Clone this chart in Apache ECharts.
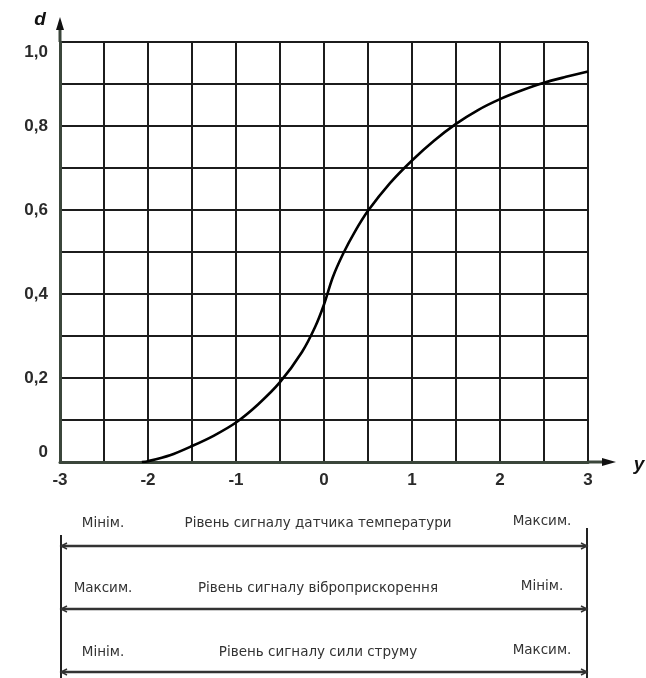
<!DOCTYPE html>
<html>
<head>
<meta charset="utf-8">
<script src="https://cdn.jsdelivr.net/npm/echarts@6/dist/echarts.min.js"></script>
<style>
html,body{margin:0;padding:0;background:#fff;}
#chart{width:646px;height:678px;}
</style>
</head>
<body>
<div id="chart"></div>
<script>
// ---- data ----
const curveY = [-2.07, -2.0, -1.75, -1.5, -1.25, -1.0, -0.75, -0.5, -0.25, -0.1, 0, 0.1, 0.22, 0.35, 0.5, 0.75, 1.0, 1.25, 1.5, 1.75, 2.0, 2.25, 2.5, 2.75, 3.0];
const curveD = [0, 0.002, 0.016, 0.038, 0.063, 0.094, 0.137, 0.19, 0.262, 0.322, 0.375, 0.44, 0.497, 0.548, 0.598, 0.664, 0.718, 0.765, 0.805, 0.838, 0.864, 0.885, 0.903, 0.917, 0.93];
const xTickLabels = [-3, -2, -1, 0, 1, 2, 3];
const yTickLabels = [0, 0.2, 0.4, 0.6, 0.8, 1.0];
const rowLeft = ['Мінім.', 'Максим.', 'Мінім.'];
const rowMid = ['Рівень сигналу датчика температури', 'Рівень сигналу віброприскорення', 'Рівень сигналу сили струму'];
const rowRight = ['Максим.', 'Мінім.', 'Максим.'];
const yAxisName = 'd';
const xAxisName = 'y';

const chart = echarts.init(document.getElementById('chart'), null, {renderer: 'canvas'});
const seriesData = curveY.map((v, i) => [v, curveD[i]]);

function fmtY(v) {
  const hit = yTickLabels.find(t => Math.abs(v - t) < 1e-6);
  if (hit === undefined) return '';
  if (hit === 0) return '{bot|0}';
  const s = hit.toFixed(1).replace('.', ',');
  if (Math.abs(hit - 1) < 1e-9) return '{top|' + s + '}';
  return '{n|' + s + '}';
}
function fmtX(v) {
  const hit = xTickLabels.find(t => Math.abs(t - v) < 1e-6);
  return hit === undefined ? '' : String(hit);
}

const gridCol = '#1c1c1c';
const labelFont = {fontFamily: 'Liberation Sans, Arial, sans-serif', fontSize: 17, fontWeight: 'bold', color: '#2a2a2a'};

chart.setOption({
  animation: false,
  backgroundColor: '#fff',
  grid: {left: 60, right: 58, top: 42, bottom: 216},
  xAxis: {
    type: 'value', min: -3, max: 3, interval: 0.5,
    axisLine: {show: true, onZero: false, lineStyle: {color: '#3b463b', width: 3}},
    axisTick: {show: false},
    splitLine: {show: true, lineStyle: {color: gridCol, width: 2}},
    axisLabel: Object.assign({margin: 10, formatter: fmtX, showMinLabel: true, showMaxLabel: true}, labelFont)
  },
  yAxis: {
    type: 'value', min: 0, max: 1, interval: 0.1,
    axisLine: {show: true, onZero: false, lineStyle: {color: '#3b463b', width: 3}},
    axisTick: {show: false},
    splitLine: {show: true, lineStyle: {color: gridCol, width: 2}},
    axisLabel: {
      margin: 12, formatter: fmtY, showMinLabel: true, showMaxLabel: true,
      rich: {
        n: labelFont,
        top: Object.assign({padding: [20, 0, 0, 0]}, labelFont),
        bot: Object.assign({padding: [0, 0, 20, 0]}, labelFont)
      }
    }
  },
  series: [{
    type: 'line', data: seriesData, smooth: 0.3, symbol: 'none',
    lineStyle: {color: '#000', width: 2.6}, z: 5
  }]
});

function px(x, y) { return chart.convertToPixel({gridIndex: 0}, [x, y]); }
const o = px(-3, 0), xe = px(3, 0), ye = px(-3, 1);
const g = [];
// y axis extension + arrow
g.push({type: 'line', shape: {x1: o[0], y1: ye[1], x2: o[0], y2: ye[1] - 14}, style: {stroke: '#3b463b', lineWidth: 3}});
g.push({type: 'polygon', shape: {points: [[o[0], ye[1] - 25], [o[0] - 4, ye[1] - 12], [o[0] + 4, ye[1] - 12]]}, style: {fill: '#111'}});
// x axis extension + arrow
g.push({type: 'line', shape: {x1: xe[0], y1: o[1], x2: xe[0] + 16, y2: o[1]}, style: {stroke: '#3b463b', lineWidth: 3}});
g.push({type: 'polygon', shape: {points: [[xe[0] + 28, o[1]], [xe[0] + 14, o[1] - 4], [xe[0] + 14, o[1] + 4]]}, style: {fill: '#111'}});
// axis names
g.push({type: 'text', style: {text: yAxisName, x: o[0] - 20, y: ye[1] - 22, align: 'center', verticalAlign: 'middle', font: 'italic bold 19px Liberation Sans, Arial, sans-serif', fill: '#111'}});
g.push({type: 'text', style: {text: xAxisName, x: xe[0] + 51, y: o[1] + 3, align: 'center', verticalAlign: 'middle', font: 'italic bold 19px Liberation Sans, Arial, sans-serif', fill: '#111'}});

// bottom scale table
const L = o[0], R = xe[0];
const arrowY = [o[1] + 84, o[1] + 147, o[1] + 210];
const textY = [o[1] + 61, o[1] + 126, o[1] + 190];
g.push({type: 'line', shape: {x1: L + 1, y1: o[1] + 73, x2: L + 1, y2: 678}, style: {stroke: '#222', lineWidth: 2}});
g.push({type: 'line', shape: {x1: R - 1, y1: o[1] + 66, x2: R - 1, y2: 678}, style: {stroke: '#222', lineWidth: 2}});
const tFont = '13.5px DejaVu Sans, sans-serif';
for (let i = 0; i < 3; i++) {
  const ay = arrowY[i];
  g.push({type: 'line', shape: {x1: L + 1, y1: ay, x2: R - 1, y2: ay}, style: {stroke: '#333', lineWidth: 2.4}});
  g.push({type: 'polyline', shape: {points: [[L + 7, ay - 3], [L + 1, ay], [L + 7, ay + 3]]}, style: {stroke: '#333', lineWidth: 1.4, fill: null}});
  g.push({type: 'polyline', shape: {points: [[R - 7, ay - 3], [R - 1, ay], [R - 7, ay + 3]]}, style: {stroke: '#333', lineWidth: 1.4, fill: null}});
  g.push({type: 'text', style: {text: rowLeft[i], x: L + 43, y: textY[i], align: 'center', verticalAlign: 'middle', font: tFont, fill: '#333'}});
  g.push({type: 'text', style: {text: rowMid[i], x: (L + R) / 2 - 6, y: textY[i], align: 'center', verticalAlign: 'middle', font: tFont, fill: '#333'}});
  g.push({type: 'text', style: {text: rowRight[i], x: R - 46, y: textY[i] - 2, align: 'center', verticalAlign: 'middle', font: tFont, fill: '#333'}});
}
chart.setOption({graphic: g});
</script>
</body>
</html>
